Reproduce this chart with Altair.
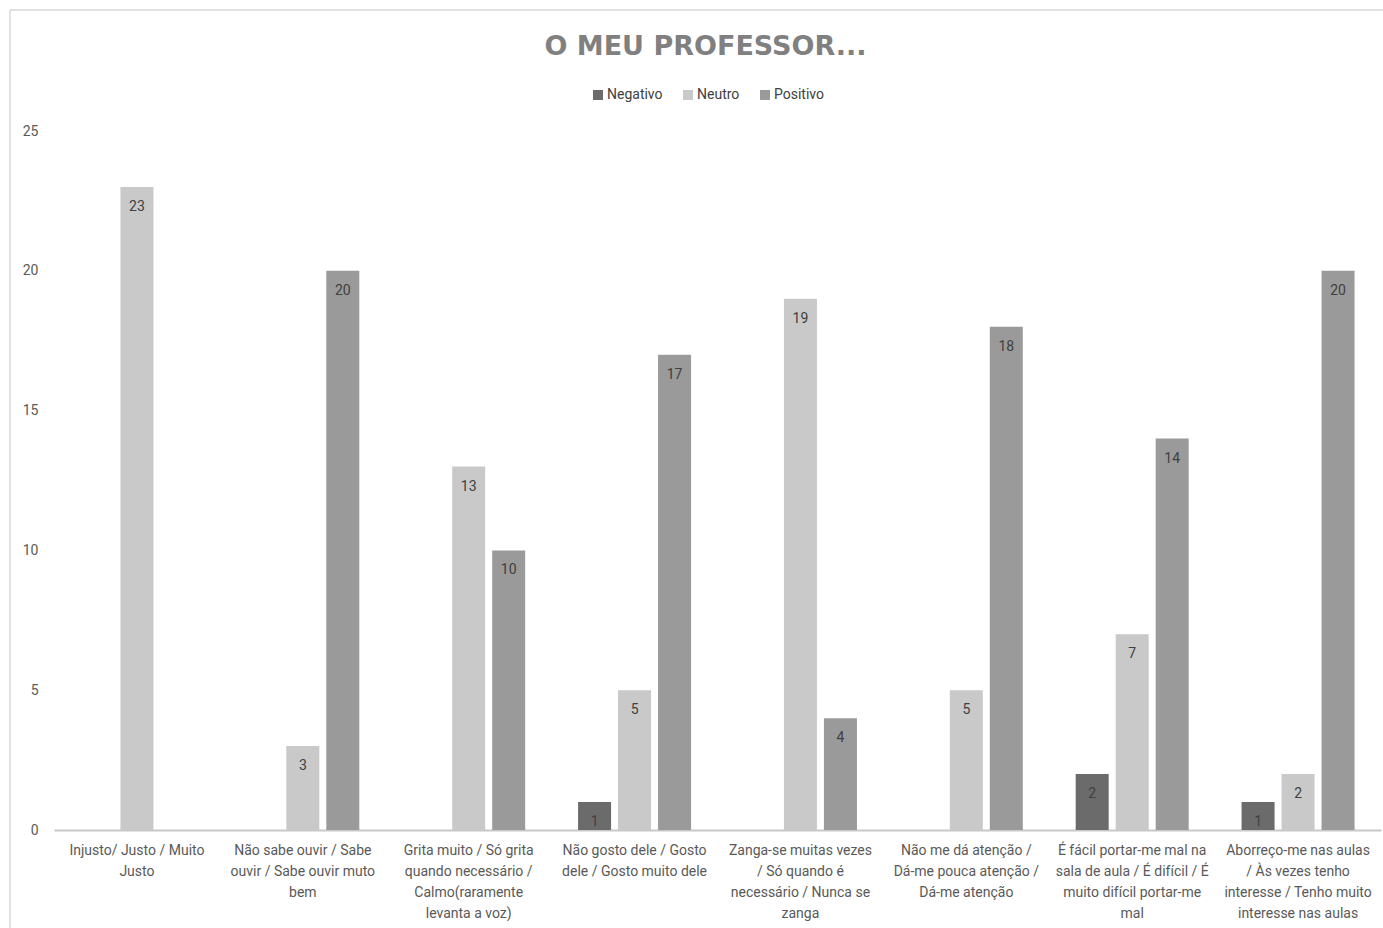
import altair as alt
import pandas as pd

categories = [
    "Injusto/  Justo / Muito|Justo",
    "Não sabe ouvir / Sabe|ouvir / Sabe ouvir muto|bem",
    "Grita muito / Só grita|quando necessário /|Calmo(raramente|levanta a voz)",
    "Não gosto dele / Gosto|dele / Gosto muito dele",
    "Zanga-se muitas vezes|/ Só quando é|necessário / Nunca se|zanga",
    "Não me dá atenção /|Dá-me pouca atenção /|Dá-me atenção",
    "É fácil portar-me mal na|sala de aula / É difícil / É|muito difícil portar-me|mal",
    "Aborreço-me nas aulas|/ Às vezes tenho|interesse / Tenho muito|interesse nas aulas",
]
series = ["Negativo", "Neutro", "Positivo"]
negativo = [None, None, None, 1, None, None, 2, 1]
neutro = [23, 3, 13, 5, 19, 5, 7, 2]
positivo = [None, 20, 10, 17, 4, 18, 14, 20]
colors = ["#6b6b6b", "#c9c9c9", "#9a9a9a"]

rows = []
for i, c in enumerate(categories):
    for s, vals in zip(series, [negativo, neutro, positivo]):
        if vals[i] is not None:
            rows.append({"cat": c, "serie": s, "valor": vals[i]})
df = pd.DataFrame(rows)

FONT = "Roboto"

yscale = alt.Scale(domain=[0, 25], nice=False, zero=True)

x = alt.X("cat:N", sort=categories, title=None,
          scale=alt.Scale(paddingInner=0, paddingOuter=0),
          axis=alt.Axis(labelExpr="split(datum.label, '|')", labelAngle=0,
                        labelLimit=0, labelLineHeight=21, labelBaseline="top",
                        labelPadding=13, ticks=False, domainColor="#c8c8c8",
                        domainWidth=2, labelColor="#595959", labelFontSize=14,
                        labelFont=FONT))
xoff = alt.XOffset("serie:N", sort=series,
                   scale=alt.Scale(paddingInner=0.175, paddingOuter=0.661))
y = alt.Y("valor:Q", title=None, scale=yscale,
          axis=alt.Axis(values=[0, 5, 10, 15, 20, 25], grid=False, domain=False,
                        ticks=False, labelPadding=16, labelColor="#595959",
                        labelFontSize=14, labelFont=FONT))

bars = alt.Chart(df).mark_bar().encode(
    x=x, xOffset=xoff, y=y,
    color=alt.Color("serie:N", sort=series,
                    scale=alt.Scale(domain=series, range=colors),
                    legend=alt.Legend(title=None, orient="none", direction="horizontal",
                                      legendX=537, legendY=-43, symbolType="square",
                                      symbolSize=100, symbolStrokeWidth=0,
                                      labelOffset=2, columnPadding=18,
                                      labelFontSize=14, labelColor="#404040",
                                      labelFont=FONT)),
)

labels = alt.Chart(df).mark_text(baseline="middle", dy=20, fontSize=14,
                                 color="#404040", font=FONT).encode(
    x=alt.X("cat:N", sort=categories), xOffset=xoff,
    y=alt.Y("valor:Q", scale=yscale),
    text="valor:Q",
)

frame = alt.Chart(alt.Data(values=[{}])).mark_rule(color="#d9d9d9", strokeWidth=1.5).encode(
    x=alt.value(-44), y=alt.value(-121), y2=alt.value(820)
)
frame_top = alt.Chart(alt.Data(values=[{}])).mark_rule(color="#d9d9d9", strokeWidth=1.5).encode(
    x=alt.value(-44), x2=alt.value(1400), y=alt.value(-121)
)

chart = alt.layer(frame, frame_top, bars, labels).properties(
    width=1327, height=699,
    background="white",
    title=alt.TitleParams("O MEU PROFESSOR...", anchor="middle", fontSize=27,
                          font="DejaVu Sans", fontWeight="bold", color="#808080",
                          dx=-12, offset=0, dy=52),
    autosize=alt.AutoSizeParams(type="none"),
    padding={"left": 54, "top": 131, "right": 2, "bottom": 98},
).configure_view(strokeWidth=0, stroke="transparent")

chart.save("out.html", embed_options={"renderer": "svg", "actions": False})
